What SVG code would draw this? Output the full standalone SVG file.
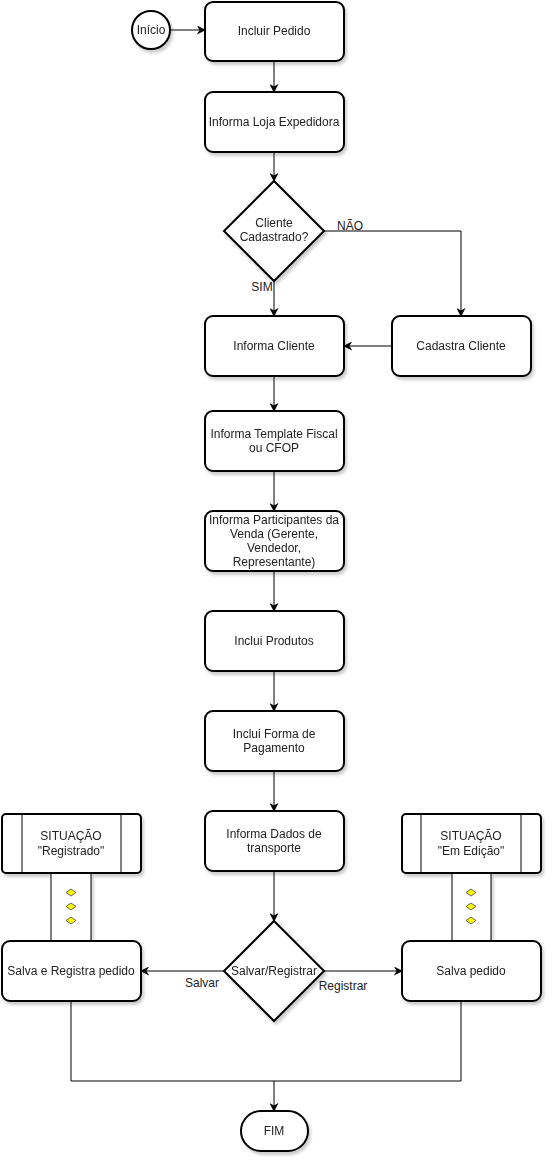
<svg xmlns="http://www.w3.org/2000/svg" width="553" height="1163" viewBox="0 0 553 1163">
<style>
.s{fill:#fff;stroke:#000;stroke-width:2}
.p{fill:#fff;stroke:#000;stroke-width:1}
.t{font-family:"Liberation Sans",Arial,sans-serif;font-size:12px;fill:#222;text-anchor:middle}
.c{fill:none;stroke:#000;stroke-width:1}
.y{fill:#ffff00;stroke:#666;stroke-width:1}
</style>
<defs>
<marker id="a" viewBox="0 0 10 10" refX="9" refY="5" markerWidth="9" markerHeight="9" orient="auto" markerUnits="userSpaceOnUse"><path d="M0,0 L10,5 L0,10 L3,5 Z" fill="#000"/></marker>
<filter id="sh" x="-20%" y="-20%" width="140%" height="140%"><feDropShadow dx="2" dy="3" stdDeviation="1.5" flood-color="#000" flood-opacity="0.2"/></filter>
</defs>
<g id="connectors">
<line class="c" x1="171" y1="30" x2="205" y2="30" marker-end="url(#a)"/>
<line class="c" x1="274" y1="61" x2="274" y2="92" marker-end="url(#a)"/>
<line class="c" x1="274" y1="152" x2="274" y2="181" marker-end="url(#a)"/>
<polyline class="c" points="324,231 461,231 461,316" marker-end="url(#a)"/>
<line class="c" x1="274" y1="281" x2="274" y2="316" marker-end="url(#a)"/>
<line class="c" x1="392" y1="346" x2="344" y2="346" marker-end="url(#a)"/>
<line class="c" x1="274" y1="376" x2="274" y2="411" marker-end="url(#a)"/>
<line class="c" x1="274" y1="471" x2="274" y2="511" marker-end="url(#a)"/>
<line class="c" x1="274" y1="571" x2="274" y2="611" marker-end="url(#a)"/>
<line class="c" x1="274" y1="671" x2="274" y2="711" marker-end="url(#a)"/>
<line class="c" x1="274" y1="771" x2="274" y2="811" marker-end="url(#a)"/>
<line class="c" x1="274" y1="871" x2="274" y2="921" marker-end="url(#a)"/>
<line class="c" x1="224" y1="971" x2="141" y2="971" marker-end="url(#a)"/>
<line class="c" x1="324" y1="971" x2="402" y2="971" marker-end="url(#a)"/>
<polyline class="c" points="71,1001 71,1081 461,1081 461,1001"/>
<line class="c" x1="274" y1="1081" x2="274" y2="1111" marker-end="url(#a)"/>
<text class="t" x="350" y="230">NÃO</text>
<text class="t" x="262" y="291">SIM</text>
<text class="t" x="202" y="987">Salvar</text>
<text class="t" x="343" y="990">Registrar</text>
</g>
<g id="inicio" filter="url(#sh)"><circle class="s" cx="151" cy="30" r="19"/><text class="t" x="151" y="34">Início</text></g>
<g id="incluir-pedido" filter="url(#sh)"><rect class="s" x="205" y="2" width="139" height="59" rx="8"/><text class="t" x="274" y="35">Incluir Pedido</text></g>
<g id="loja" filter="url(#sh)"><rect class="s" x="205" y="92" width="139" height="60" rx="8"/><text class="t" x="274" y="126">Informa Loja Expedidora</text></g>
<g id="cliente-cadastrado" filter="url(#sh)"><polygon class="s" points="274,181 324,231 274,281 224,231"/><text class="t" x="274" y="227">Cliente</text><text class="t" x="274" y="241">Cadastrado?</text></g>
<g id="informa-cliente" filter="url(#sh)"><rect class="s" x="205" y="316" width="139" height="60" rx="8"/><text class="t" x="274" y="350">Informa Cliente</text></g>
<g id="cadastra-cliente" filter="url(#sh)"><rect class="s" x="392" y="316" width="139" height="60" rx="8"/><text class="t" x="461" y="350">Cadastra Cliente</text></g>
<g id="template" filter="url(#sh)"><rect class="s" x="205" y="411" width="139" height="60" rx="8"/><text class="t" x="274" y="438">Informa Template Fiscal</text><text class="t" x="274" y="452">ou CFOP</text></g>
<g id="participantes" filter="url(#sh)"><rect class="s" x="205" y="511" width="139" height="60" rx="8"/><text class="t" x="274" y="524">Informa Participantes da</text><text class="t" x="274" y="538">Venda (Gerente,</text><text class="t" x="274" y="552">Vendedor,</text><text class="t" x="274" y="566">Representante)</text></g>
<g id="produtos" filter="url(#sh)"><rect class="s" x="205" y="611" width="139" height="60" rx="8"/><text class="t" x="274" y="645">Inclui Produtos</text></g>
<g id="pagamento" filter="url(#sh)"><rect class="s" x="205" y="711" width="139" height="60" rx="8"/><text class="t" x="274" y="738">Inclui Forma de</text><text class="t" x="274" y="752">Pagamento</text></g>
<g id="transporte" filter="url(#sh)"><rect class="s" x="205" y="811" width="139" height="60" rx="8"/><text class="t" x="274" y="838">Informa Dados de</text><text class="t" x="274" y="852">transporte</text></g>
<g id="salvar-registrar" filter="url(#sh)"><polygon class="s" points="274,921 324,971 274,1021 224,971"/><text class="t" x="274" y="975">Salvar/Registrar</text></g>
<g id="situacao-registrado" filter="url(#sh)">
<rect class="p" x="51" y="872" width="40" height="70"/>
<rect class="s" x="2" y="814" width="139" height="59" rx="4"/>
<line class="c" x1="22" y1="814" x2="22" y2="873"/><line class="c" x1="121" y1="814" x2="121" y2="873"/>
<text class="t" x="71" y="840">SITUAÇÃO</text><text class="t" x="71" y="855">"Registrado"</text>
<path class="y" d="M71,889 L76,892.5 L71,896 L66,892.5 Z M71,903 L76,906.5 L71,910 L66,906.5 Z M71,917 L76,920.5 L71,924 L66,920.5 Z"/>
</g>
<g id="situacao-edicao" filter="url(#sh)">
<rect class="p" x="452" y="872" width="39" height="70"/>
<rect class="s" x="402" y="814" width="139" height="59" rx="4"/>
<line class="c" x1="421" y1="814" x2="421" y2="873"/><line class="c" x1="521" y1="814" x2="521" y2="873"/>
<text class="t" x="471" y="840">SITUAÇÃO</text><text class="t" x="471" y="855">"Em Edição"</text>
<path class="y" d="M471,889 L476,892.5 L471,896 L466,892.5 Z M471,903 L476,906.5 L471,910 L466,906.5 Z M471,917 L476,920.5 L471,924 L466,920.5 Z"/>
</g>
<g id="salva-registra" filter="url(#sh)"><rect class="s" x="2" y="941" width="139" height="60" rx="8"/><text class="t" x="71" y="975">Salva e Registra pedido</text></g>
<g id="salva-pedido" filter="url(#sh)"><rect class="s" x="402" y="941" width="139" height="60" rx="8"/><text class="t" x="471" y="975">Salva pedido</text></g>
<g id="fim" filter="url(#sh)"><rect class="s" x="241" y="1111" width="67" height="40" rx="20"/><text class="t" x="274" y="1135">FIM</text></g>
</svg>
